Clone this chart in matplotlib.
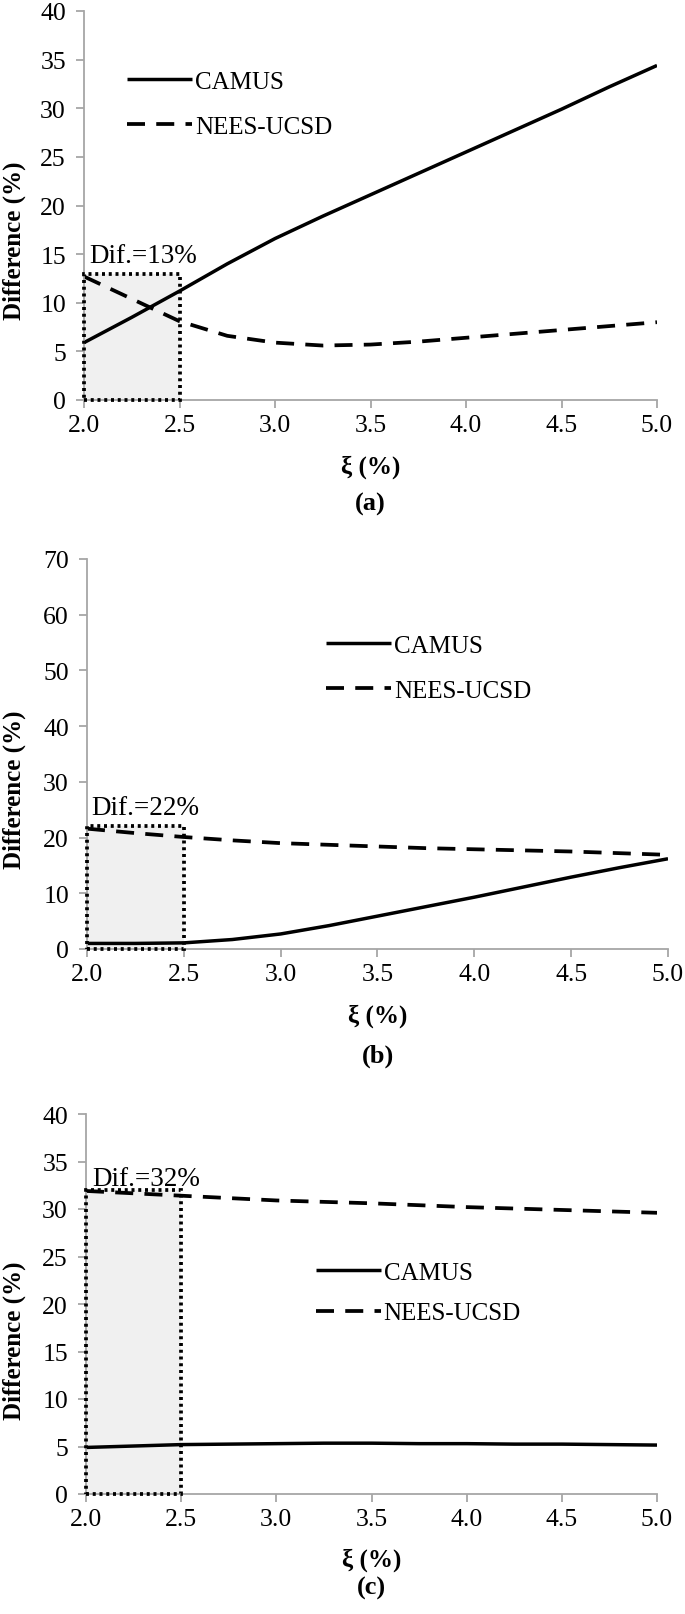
import matplotlib
matplotlib.use("Agg")
import matplotlib.pyplot as plt
from matplotlib.patches import Rectangle

plt.rcParams['font.family'] = ['Liberation Serif', 'DejaVu Serif']

xi = [2.0, 2.25, 2.5, 2.75, 3.0, 3.25, 3.5, 3.75, 4.0, 4.25, 4.5, 4.75, 5.0]

camus_a = [5.9, 8.5, 11.2, 14.0, 16.6, 18.9, 21.1, 23.3, 25.5, 27.7, 29.9, 32.2, 34.4]
nees_a = [12.7, 10.4, 8.1, 6.6, 5.9, 5.6, 5.7, 6.0, 6.4, 6.8, 7.2, 7.6, 8.0]

camus_b = [1.0, 1.0, 1.1, 1.7, 2.7, 4.2, 5.9, 7.6, 9.3, 11.1, 12.9, 14.6, 16.2]
nees_b = [21.6, 20.8, 20.1, 19.5, 19.0, 18.7, 18.4, 18.1, 17.9, 17.7, 17.5, 17.2, 16.9]

camus_c = [4.9, 5.05, 5.2, 5.25, 5.3, 5.35, 5.35, 5.3, 5.3, 5.25, 5.25, 5.2, 5.15]
nees_c = [31.9, 31.65, 31.4, 31.15, 30.9, 30.75, 30.6, 30.4, 30.2, 30.05, 29.9, 29.75, 29.6]

series_labels = ["CAMUS", "NEES-UCSD"]
panel_labels = ["(a)", "(b)", "(c)"]
dif_labels = ["Dif.=13%", "Dif.=22%", "Dif.=32%"]
box_x = [2.0, 2.5]
box_top = [13, 22, 32]
y_max = [40, 70, 40]
y_step = [5, 10, 5]
x_ticks = [2.0, 2.5, 3.0, 3.5, 4.0, 4.5, 5.0]

W, H = 685, 1615
fig = plt.figure(figsize=(W / 100, H / 100), dpi=100)

# axes rectangles in pixels: left, right, top, bottom
ax_px = [(84, 657, 12, 401), (87, 668, 560, 950), (86, 657, 1115, 1495)]
ylabel_y = [241, 790, 1341]
xlabel_y = [467, 1016, 1560]
panel_y = [504, 1056, 1588]
legend_anchor = [(0.075, 30.45), (0.411, 50.35), (0.402, 21.15)]
legend_spacing = [0.9, 0.9, 0.71]
dif_pos = [(2.027, 14.2), (2.02, 24.2), (2.035, 32.5)]

data = [(camus_a, nees_a), (camus_b, nees_b), (camus_c, nees_c)]
grey = '#a6a6a6'

for i in range(3):
    l, r, t, b = ax_px[i]
    ax = fig.add_axes([l / W, 1 - b / H, (r - l) / W, (b - t) / H])
    camus, nees = data[i]

    ax.add_patch(Rectangle((box_x[0], 0), box_x[1] - box_x[0], box_top[i],
                           facecolor='#f0f0f0', edgecolor='none', zorder=1))
    ax.plot(xi, camus, color='black', lw=2.5, label=series_labels[0], zorder=2,
            solid_capstyle='butt')
    ax.plot(xi, nees, color='black', lw=2.7, ls=(0, (4.8, 3.0)), label=series_labels[1], zorder=2)
    ax.add_patch(Rectangle((box_x[0], 0), box_x[1] - box_x[0], box_top[i],
                           facecolor='none', edgecolor='black', lw=2.7,
                           ls=(0, (0.8, 1.0)), zorder=3, clip_on=False))

    ax.text(dif_pos[i][0], dif_pos[i][1], dif_labels[i], fontsize=19.5,
            ha='left', va='baseline', zorder=4)

    ax.set_xlim(2.0, 5.0)
    ax.set_ylim(0, y_max[i])
    ax.set_xticks(x_ticks)
    ax.set_xticklabels([f"{v:.1f}" for v in x_ticks])
    ax.set_yticks(list(range(0, y_max[i] + 1, y_step[i])))
    for s in ['top', 'right']:
        ax.spines[s].set_visible(False)
    for s in ['left', 'bottom']:
        ax.spines[s].set_color(grey)
        ax.spines[s].set_linewidth(1.3)
    ax.tick_params(axis='both', direction='out', length=6, width=1.3, color=grey,
                   labelsize=18.5, labelcolor='black')
    ax.tick_params(axis='x', pad=4)
    ax.tick_params(axis='y', pad=7)

    lx, ly = legend_anchor[i]
    ax.legend(loc='center left', bbox_to_anchor=(lx, ly / y_max[i]), frameon=False,
              fontsize=18, handlelength=2.6, handletextpad=0.12,
              labelspacing=legend_spacing[i], borderpad=0, borderaxespad=0)

    fig.text(14 / W, 1 - ylabel_y[i] / H, "Difference (%)", rotation=90,
             fontsize=18, fontweight='bold', ha='center', va='center')
    fig.text(((l + r) / 2) / W, 1 - xlabel_y[i] / H, "ξ (%)",
             fontsize=18, fontweight='bold', ha='center', va='center')
    fig.text(((l + r) / 2) / W, 1 - panel_y[i] / H, panel_labels[i],
             fontsize=19, fontweight='bold', ha='center', va='center')

fig.savefig("out.png", dpi=100)
